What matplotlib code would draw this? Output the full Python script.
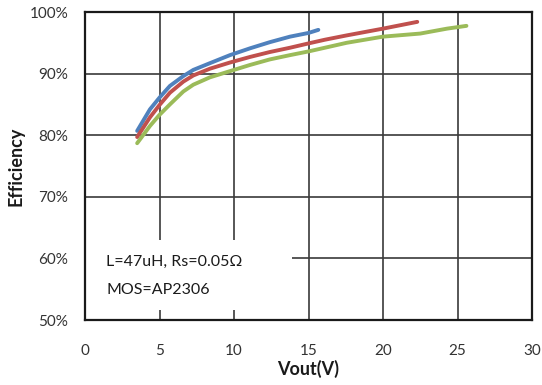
import matplotlib
matplotlib.use("Agg")
import matplotlib.pyplot as plt
from matplotlib.patches import Rectangle

# Data (Vout in V, efficiency in %)
blue_x = [3.5, 4.36, 5.0, 5.7, 6.6, 7.27, 8.39, 9.73, 11.07, 12.4, 13.76, 15.0, 15.66]
blue_y = [80.7, 84.2, 86.1, 88.0, 89.6, 90.6, 91.7, 93.0, 94.1, 95.1, 96.0, 96.6, 97.1]

red_x = [3.5, 4.36, 5.0, 5.7, 6.6, 7.27, 8.39, 9.73, 11.07, 12.4, 13.76, 15.0, 16.1, 17.56, 20.0, 22.3]
red_y = [79.7, 82.9, 84.9, 86.9, 88.7, 89.7, 90.8, 91.8, 92.7, 93.5, 94.2, 94.9, 95.5, 96.2, 97.3, 98.4]

green_x = [3.5, 4.36, 5.0, 5.7, 6.6, 7.27, 8.39, 9.73, 11.07, 12.4, 13.76, 15.0, 16.1, 17.56, 20.0, 22.5, 24.3, 25.6]
green_y = [78.7, 81.5, 83.3, 85.0, 87.1, 88.2, 89.4, 90.4, 91.4, 92.3, 93.0, 93.6, 94.2, 95.0, 96.0, 96.5, 97.3, 97.75]

x_ticks = [0, 5, 10, 15, 20, 25, 30]
y_ticks = [50, 60, 70, 80, 90, 100]
y_tick_labels = ["50%", "60%", "70%", "80%", "90%", "100%"]
annotation_lines = ["L=47uH, Rs=0.05\u03a9", "MOS=AP2306"]

plt.rcParams['font.family'] = ['Lato', 'DejaVu Sans']

fig = plt.figure(figsize=(5.42, 3.85), dpi=100)
ax = fig.add_axes([85/542, 1-320/385, 447/542, 308/385])

ax.set_xlim(0, 30)
ax.set_ylim(50, 100)
ax.set_xticks(x_ticks)
ax.set_yticks(y_ticks)
ax.set_yticklabels(y_tick_labels)
ax.tick_params(length=0, labelsize=11, labelcolor='#333333')
ax.tick_params(axis='x', pad=17)
ax.tick_params(axis='y', pad=12)
ax.grid(True, color='#3a3a3a', linewidth=1.2, zorder=0)
ax.set_axisbelow(True)
for s in ax.spines.values():
    s.set_color('#1a1a1a')
    s.set_linewidth(1.6)

# white box behind annotation text
ax.add_patch(Rectangle((0, 0.032), 0.463, 0.228, transform=ax.transAxes,
                       facecolor='white', edgecolor='none', zorder=1))

ax.plot(blue_x, blue_y, color='#4F81BD', linewidth=2.8, zorder=3,
        solid_capstyle='round', solid_joinstyle='round')
ax.plot(red_x, red_y, color='#C0504D', linewidth=2.8, zorder=3,
        solid_capstyle='round', solid_joinstyle='round')
ax.plot(green_x, green_y, color='#9BBB59', linewidth=2.8, zorder=3,
        solid_capstyle='round', solid_joinstyle='round')

ax.text(0.047, 0.188, annotation_lines[0], transform=ax.transAxes, fontsize=11.5,
        color='#1a1a1a', va='center', ha='left', zorder=4)
ax.text(0.047, 0.097, annotation_lines[1], transform=ax.transAxes, fontsize=11.5,
        color='#1a1a1a', va='center', ha='left', zorder=4)

ax.set_xlabel("Vout(V)", fontsize=13, fontweight='bold', color='#1a1a1a', labelpad=2)
ax.set_ylabel("Efficiency", fontsize=13, fontweight='bold', color='#1a1a1a', labelpad=4)

fig.savefig("out.png", dpi=100)
